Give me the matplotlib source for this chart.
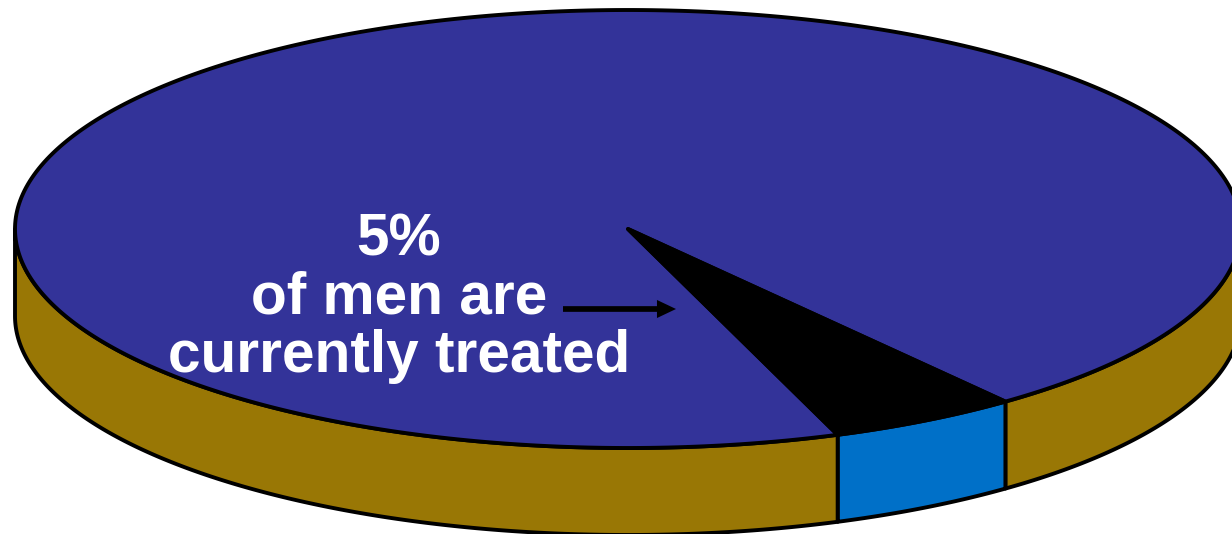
import numpy as np
import matplotlib
matplotlib.use("Agg")
import matplotlib.pyplot as plt

# datos del grafico
partes = [95, 5]
inicio_tratados = 52  # angulo donde empieza la rebanada de 5%
etiqueta = "5%\nof men are\ncurrently treated"

color_arriba = "#333399"
color_tratados = "#000000"
color_lado = "#997705"
color_lado_tratados = "#0070C8"

# centro y radios de la elipse en pixeles
cx, cy = 628, 229
rx, ry = 613, 219
grosor = 87


def punto(t):
    t = np.radians(t)
    return cx + rx * np.cos(t), cy + ry * np.sin(t)


def lado(t1, t2, color):
    t = np.linspace(t1, t2, 200)
    x, y = punto(t)
    xs = np.concatenate([x, x[::-1]])
    ys = np.concatenate([y, y[::-1] + grosor])
    ax.fill(xs, ys, facecolor=color, edgecolor="black", lw=2.8, joinstyle="round", zorder=2)


def rebanada(t1, t2, color):
    t = np.linspace(t1, t2, 400)
    x, y = punto(t)
    ax.fill(np.r_[cx, x], np.r_[cy, y], facecolor=color, edgecolor="black", lw=2.8, joinstyle="round", zorder=3)


fig = plt.figure(figsize=(12.32, 5.34), dpi=100)
ax = fig.add_axes([0, 0, 1, 1])
ax.set_xlim(0, 1232)
ax.set_ylim(534, 0)
ax.axis("off")

fin_tratados = inicio_tratados + partes[1] / sum(partes) * 360

# pared lateral (solo la mitad de abajo se ve)
lado(0, inicio_tratados, color_lado)
lado(inicio_tratados, fin_tratados, color_lado_tratados)
lado(fin_tratados, 180, color_lado)

# cara de arriba
rebanada(fin_tratados, inicio_tratados + 360, color_arriba)
rebanada(inicio_tratados, fin_tratados, color_tratados)

ax.text(399, 298, etiqueta, color="white", ha="center", va="center", fontsize=42.2,
        fontweight="bold", family="Liberation Sans", linespacing=1.08, zorder=5)
ax.annotate("", xy=(676, 309), xytext=(563, 309), zorder=5,
            arrowprops=dict(arrowstyle="simple,head_length=1.37,head_width=1.3,tail_width=0.41",
                            facecolor="black", edgecolor="none", lw=0, mutation_scale=10,
                            shrinkA=0, shrinkB=0))

fig.savefig("out.png", dpi=100)
